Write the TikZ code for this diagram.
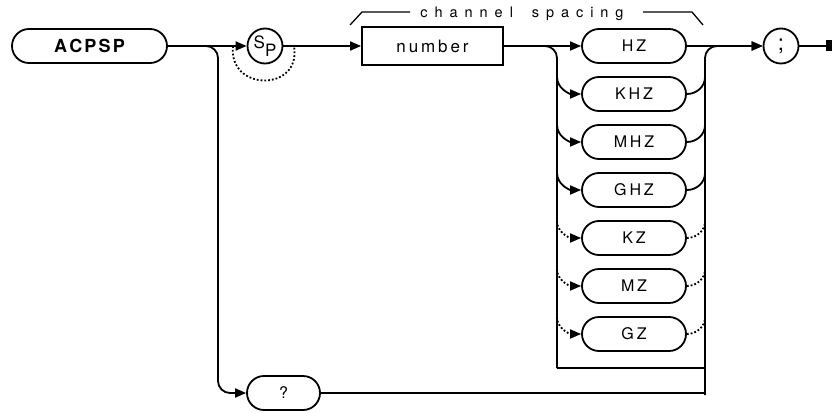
\documentclass[tikz,border=0pt]{standalone}
\usepackage{fontspec}
\setmainfont{TeX Gyre Heros}
\usetikzlibrary{shapes.misc,arrows.meta}

% letter spacing: \ls{gap}{text}
\makeatletter
\def\ls#1#2{\def\ls@gap{\hspace{#1}}\edef\ls@tmp{#2}\expandafter\ls@b\ls@tmp\@nil}
\def\ls@b#1{#1\ls@a}
\def\ls@a#1{\ifx#1\@nil\else\ls@gap#1\expandafter\ls@a\fi}
\makeatother

\tikzset{
  arr/.style={-{Triangle[length=11pt,width=9pt]}},
  keyword/.style={rounded rectangle, draw, minimum width=104pt, minimum height=34pt,
    inner sep=0pt, font=\fontsize{16}{16}\selectfont},
  cmd/.style={keyword, minimum width=155pt, font=\fontsize{18}{18}\selectfont\bfseries},
  numbox/.style={rectangle, draw, minimum width=141pt, minimum height=38pt,
    inner sep=0pt, font=\fontsize{17}{17}\selectfont},
  sym/.style={circle, draw, minimum size=35pt, inner sep=0pt, font=\fontsize{17}{17}\selectfont},
  lbl/.style={font=\fontsize{14.5}{14.5}\selectfont}
}

\begin{document}
\begin{tikzpicture}[x=1pt, y=-1pt, line width=1.8pt]
\useasboundingbox (0,0) rectangle (832,412);

% main path
\node[cmd] (acpsp) at (89.5,46) {\ls{.12em}{ACPSP}};
\node[sym] (sp) at (265,46) {\raisebox{4pt}{S}\raisebox{-4pt}{P}};
\node[numbox] (num) at (432.5,46) {\ls{.17em}{number}};
\node[keyword] (hz) at (634,46) {\ls{.18em}{HZ}};
\node[sym, font=\fontsize{22}{22}\selectfont] (semi) at (781,46) {;};
\node[keyword, minimum width=73pt] (query) at (283.5,393) {?};
\coordinate (stop) at (827,46);

\draw[arr] (acpsp) -- (sp);
\draw[arr] (sp) -- (num);
\draw[arr] (num) -- (hz);
\draw[arr] (hz) -- (semi);
\draw (semi) -- (stop);
\fill (826,40) rectangle (832,51);

% optional SP
\draw[dotted] (233,46) .. controls (228,92) and (302,92) .. (294,46);

% query branch
\coordinate (qsplit) at (218,393);
\draw[arr, rounded corners=12pt] (acpsp.east) -| (qsplit) -- (query.west);

% channel spacing label
\node[lbl] (chsp) at (522,14) {\ls{.48em}{channel}\hspace{1.3em}\ls{.48em}{spacing}};
\draw[line width=1.3pt] (350,25) -- (362,12) -- (410,12);
\draw[line width=1.3pt] (643,12) -- (692,12) -- (703,25);

% unit rails
\coordinate (railL) at (557,368);
\coordinate (railR) at (705,368);
\coordinate (railQ) at (705,395);
\draw[rounded corners=12pt] (num.east) -| (railL);
\draw (railL) -- (railR);
\draw (query.east) -- (705,393);
\draw[arr, rounded corners=12pt] (railQ) |- (semi.west);

\foreach \nm/\txt/\y/\ln in {khz/KHZ/94/solid, mhz/MHZ/142/solid, ghz/GHZ/190/solid,
    kz/KZ/238/dotted, mz/MZ/286/dotted, gz/GZ/334/dotted}{
  \node[keyword] (\nm) at (634,\y) {\ls{.18em}{\txt}};
  \draw[arr,\ln] (557,{\y-17}) to[out=-90,in=180] (\nm.west);
  \draw[\ln] (\nm.east) to[out=0,in=-90] (705,{\y-17});
}
\end{tikzpicture}
\end{document}
